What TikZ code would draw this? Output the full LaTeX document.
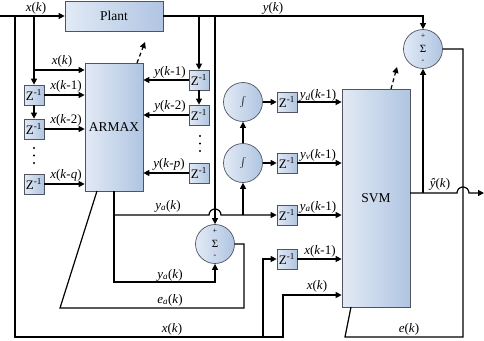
\documentclass[tikz,border=0pt]{standalone}
\usepackage{fontspec}
\setmainfont{Liberation Serif}
\usetikzlibrary{arrows.meta}

\definecolor{boxL}{RGB}{226,234,245}
\definecolor{boxR}{RGB}{176,197,226}
\definecolor{edge}{RGB}{80,84,96}

% signal label: variable, then the lag after k
\newcommand{\sig}[2]{\textit{#1}(\textit{k}#2)}
\newcommand{\zinv}{Z\textsuperscript{-1}}

\tikzset{
  wire/.style={line width=1.2pt},
  arr/.style={wire,-{Triangle[length=6pt,width=6pt]}},
  tune/.style={wire,dash pattern=on 4pt off 3pt,-{Triangle[length=6pt,width=6pt]}},
  unit/.style={draw=edge,line width=0.7pt,left color=boxL,right color=boxR,inner sep=0pt},
  blockbox/.style={unit,rectangle,font=\fontsize{13.5}{15}\selectfont},
  zbox/.style={unit,rectangle,minimum width=20pt,minimum height=20pt,font=\fontsize{13}{15}\selectfont},
  opc/.style={unit,circle,minimum size=39pt},
  sign/.style={font=\fontsize{8}{9}\selectfont,inner sep=0pt},
  lbl/.style={font=\fontsize{13}{14}\selectfont,inner sep=1pt},
}

\begin{document}
\begin{tikzpicture}[x=1pt,y=-1pt]
\useasboundingbox (0,0) rectangle (484,340);

% ---- blocks ----
\node[blockbox,minimum width=98pt,minimum height=30pt] (plant) at (114,16) {Plant};
\node[blockbox,minimum width=58pt,minimum height=128pt] (armax) at (114,127) {ARMAX};
\node[blockbox,minimum width=68pt,minimum height=218pt] (svm) at (376,198) {SVM};

\node[zbox] (zx1) at (34,95) {\zinv};
\node[zbox] (zx2) at (34,129) {\zinv};
\node[zbox] (zxq) at (34,184) {\zinv};
\node[zbox] (zy1) at (199,80) {\zinv};
\node[zbox] (zy2) at (199,115) {\zinv};
\node[zbox] (zyp) at (199,173) {\zinv};
\node[zbox] (zd) at (287,102) {\zinv};
\node[zbox] (zv) at (287,163) {\zinv};
\node[zbox] (za) at (287,215) {\zinv};
\node[zbox] (zxd) at (287,259) {\zinv};

\node[opc,font=\fontsize{11}{12}\selectfont] (sumT) at (423,49) {Σ};
\node[opc,font=\fontsize{11}{12}\selectfont] (sumM) at (215,244) {Σ};
\node[opc,font=\fontsize{14}{16}\selectfont] (intD) at (243,102) {$\int$};
\node[opc,font=\fontsize{14}{16}\selectfont] (intV) at (243,163) {$\int$};

\node[sign] at ([yshift=-7pt]sumT.north) {+};
\node[sign] at ([yshift=7pt]sumT.south) {-};
\node[sign] at ([yshift=-7pt]sumM.north) {+};
\node[sign] at ([yshift=7pt]sumM.south) {-};

% ---- routing points ----
\coordinate (xin) at (0,16);
\coordinate (xl) at (15,16);
\coordinate (xbl) at (15,337);
\coordinate (xbm) at (263,337);
\coordinate (xbr) at (283,337);
\coordinate (xk2) at (283,295);
\coordinate (xc) at (34,16);
\coordinate (xtap) at (34,70);
\coordinate (ytr) at (423,16);
\coordinate (yl) at (199,16);
\coordinate (ym) at (215,16);
\coordinate (yat) at (114,215);
\coordinate (yab) at (114,282);
\coordinate (yaj) at (243,215);
\coordinate (ea1) at (244,308);
\coordinate (ea2) at (60,308);
\coordinate (ea3) at (97,191);
\coordinate (e1) at (463,337);
\coordinate (e2) at (345,337);
\coordinate (e3) at (351,307);
\coordinate (so) at (410,193);
\coordinate (yh) at (423,193);
\coordinate (yout) at (484,193);
\coordinate (ta0) at (137,63);
\coordinate (ta1) at (145,42);
\coordinate (ts0) at (391,89);
\coordinate (ts1) at (397,67);

% ---- input x(k) ----
\draw[arr] (xin) -- (plant.west);
\draw[arr] (xl) -- (xbl) -- (xbr) -- (xk2) -- (xk2 -| svm.west);
\draw[arr] (xbm) -- (xbm |- zxd.west) -- (zxd.west);
\draw[arr] (zxd.east) -- (zxd.east -| svm.west);

% x delay chain into ARMAX
\draw[arr] (xc) -- (zx1.north);
\draw[arr] (xtap) -- (xtap -| armax.west);
\draw[arr] (zx1.east) -- (zx1.east -| armax.west);
\draw[arr] (zx1.south) -- (zx2.north);
\draw[arr] (zx2.east) -- (zx2.east -| armax.west);
\draw[arr] (zxq.east) -- (zxq.east -| armax.west);
\foreach \d in {148,155.5,163} \fill (34,\d) circle (1.2pt);

% ---- output y(k) ----
\draw[arr] (plant.east) -- (ytr) -- (sumT.north);
\draw[arr] (yl) -- (zy1.north);
\draw[arr] (zy1.west) -- (zy1.west -| armax.east);
\draw[arr] (zy1.south) -- (zy2.north);
\draw[arr] (zy2.west) -- (zy2.west -| armax.east);
\draw[arr] (zyp.west) -- (zyp.west -| armax.east);
\foreach \d in {136,143.5,151} \fill (200,\d) circle (1.2pt);
\draw[arr] (ym) -- (sumM.north);

% ---- ARMAX output y_a(k) ----
\draw[arr] (armax.south) -- (yab) -- (yab -| sumM.south) -- (sumM.south);
\draw[arr] (yat) -- (209,215) arc[start angle=180,end angle=0,radius=6pt] -- (yaj) -- (za.west);
\draw[arr] (yaj) -- (intV.south);
\draw[arr] (intV.north) -- (intD.south);
\draw[arr] (intD.east) -- (zd.west);
\draw[arr] (intV.east) -- (zv.west);
\draw[arr] (zd.east) -- (zd.east -| svm.west);
\draw[arr] (zv.east) -- (zv.east -| svm.west);
\draw[arr] (za.east) -- (za.east -| svm.west);

% ---- error feedback ----
\draw[wire] (sumM.east) -- (sumM.east -| ea1) -- (ea1) -- (ea2) -- (ea3);
\draw[wire] (sumT.east) -- (sumT.east -| e1) -- (e1) -- (e2) -- (e3);

% ---- SVM output ----
\draw[arr] (so) -- (457,193) arc[start angle=180,end angle=0,radius=6pt] -- (yout);
\draw[arr] (yh) -- (sumT.south);

% ---- parameter tuning ----
\draw[tune] (ta0) -- (ta1);
\draw[tune] (ts0) -- (ts1);

% ---- labels ----
\node[lbl] at (36,8) {\sig{x}{}};
\node[lbl] at (273,8) {\sig{y}{}};
\node[lbl] at (62,61) {\sig{x}{}};
\node[lbl] at (66,86) {\sig{x}{-1}};
\node[lbl] at (66,120) {\sig{x}{-2}};
\node[lbl] at (66,175) {\sig{x}{-\textit{q}}};
\node[lbl] at (170,72) {\sig{y}{-1}};
\node[lbl] at (170,106) {\sig{y}{-2}};
\node[lbl] at (169,164) {\sig{y}{-\textit{p}}};
\node[lbl] at (168,206) {\sig{y\textsubscript{a}}{}};
\node[lbl] at (170,275) {\sig{y\textsubscript{a}}{}};
\node[lbl] at (170,300) {\sig{e\textsubscript{a}}{}};
\node[lbl] at (172,329) {\sig{x}{}};
\node[lbl] at (318,95) {\sig{y\textsubscript{d}}{-1}};
\node[lbl] at (318,155) {\sig{y\textsubscript{v}}{-1}};
\node[lbl] at (318,207) {\sig{y\textsubscript{a}}{-1}};
\node[lbl] at (320,251) {\sig{x}{-1}};
\node[lbl] at (317,286) {\sig{x}{}};
\node[lbl] at (440,184) {\sig{ŷ}{}};
\node[lbl] at (409,329) {\sig{e}{}};
\end{tikzpicture}
\end{document}
